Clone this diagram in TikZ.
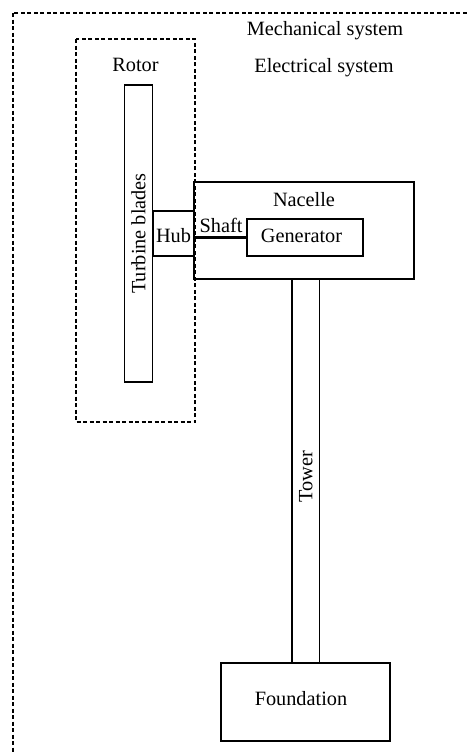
\documentclass[tikz,border=0pt]{standalone}
\usepackage{fontspec}
\setmainfont{Liberation Serif}
\begin{document}
\begin{tikzpicture}[x=1pt,y=-1pt,
  box/.style={draw, line width=1.2pt, inner sep=0pt, rectangle},
  dbox/.style={draw, line width=1.2pt, dash pattern=on 4pt off 2.5pt},
  lbl/.style={font=\fontsize{20.3}{24}\selectfont, inner sep=0pt},
  shaftline/.style={line width=3.8pt}]
\useasboundingbox (0,0) rectangle (468,753);
\begin{scope}
\clip (0,0) rectangle (468,753);
\draw[dbox] (13,13) rectangle (490,780);
\end{scope}
% rotor group
\draw[dbox] (76,39) rectangle (195,422);
\node[lbl, anchor=base] (rotorlbl) at (135.5,71.7) {Rotor};
\node[lbl, anchor=base] (mech) at (325,35) {Mechanical system};
\node[lbl, anchor=base] (elec) at (324,72) {Electrical system};
% blades
\node[box, minimum width=28.5pt, minimum height=297pt] (blades) at (138.5,233.5) {};
\node[lbl, rotate=90] (bladeslbl) at (blades.center) {Turbine blades};
% hub
\node[box, minimum width=41pt, minimum height=45pt] (hub) at (173.5,233.5) {};
\node[lbl, anchor=base] (hublbl) at (173.5,242.5) {Hub};
% nacelle
\node[box, minimum width=220pt, minimum height=97pt] (nacelle) at (304,230.5) {};
\node[lbl, anchor=base] (nacellelbl) at (304,206) {Nacelle};
% generator
\node[box, minimum width=116pt, minimum height=37pt] (gen) at (305,237.5) {};
\node[lbl, anchor=base] (genlbl) at (301.5,242) {Generator};
% shaft
\coordinate (shaftstart) at (nacelle.west |- gen.west);
\draw[shaftline] (shaftstart) -- (gen.west);
\node[lbl, anchor=base] (shaftlbl) at (221,232.7) {Shaft};
% tower
\node[box, minimum width=27.5pt, minimum height=384pt] (tower) at (305.75,471) {};
\node[lbl, rotate=90] (towerlbl) at ([yshift=-6pt]tower.center) {Tower};
% foundation
\node[box, minimum width=169pt, minimum height=78pt] (found) at (305.5,702) {};
\node[lbl, anchor=base] (foundlbl) at (301,705) {Foundation};
\end{tikzpicture}
\end{document}
